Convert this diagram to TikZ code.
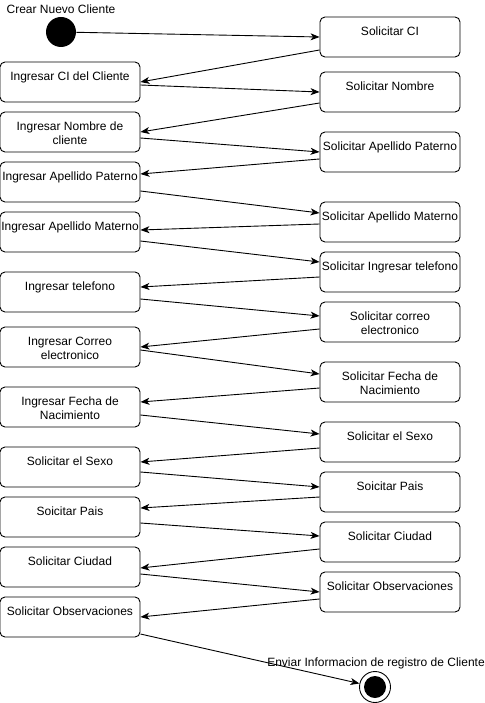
\documentclass[tikz,border=0pt]{standalone}
\usepackage{fontspec}
\setmainfont{Liberation Sans}
\usetikzlibrary{arrows.meta}

\newcommand{\acttext}[1]{\parbox[c][22pt][t]{140pt}{\centering\begin{tabular}[t]{@{}c@{}}#1\end{tabular}}}

\tikzset{
  actbox/.style={draw, rounded corners=5pt, minimum width=140pt, minimum height=40pt,
    inner sep=0pt, font=\fontsize{12}{14}\selectfont},
  flow/.style={-{Stealth[length=9pt,width=7pt,inset=2.5pt]}},
  caption/.style={font=\fontsize{12}{14}\selectfont, inner sep=0pt},
}

\begin{document}
\begin{tikzpicture}[x=1pt,y=-1pt,line width=0.9pt]
\useasboundingbox (0,0) rectangle (484,703);

%% start and end
\node[circle, fill=black, minimum size=30pt, inner sep=0pt] (start) at (61,32) {};
\node[caption] (crear) at (61,9) {Crear Nuevo Cliente};
\node[circle, draw, fill=white, minimum size=31pt, inner sep=0pt,
  path picture={\fill[black] (path picture bounding box.center) circle (11pt);}] (end) at (375,687) {};
\node[caption] (enviar) at (376,663) {Enviar Informacion de registro de Cliente};

%% right column
\node[actbox] (r1) at (390,37)  {\acttext{Solicitar CI}};
\node[actbox] (r2) at (390,92)  {\acttext{Solicitar Nombre}};
\node[actbox] (r3) at (390,152) {\acttext{Solicitar Apellido Paterno}};
\node[actbox] (r4) at (390,222) {\acttext{Solicitar Apellido Materno}};
\node[actbox] (r5) at (390,272) {\acttext{Solicitar Ingresar telefono}};
\node[actbox] (r6) at (390,322) {\acttext{Solicitar correo\\electronico}};
\node[actbox] (r7) at (390,382) {\acttext{Solicitar Fecha de\\Nacimiento}};
\node[actbox] (r8) at (390,442) {\acttext{Solicitar el Sexo}};
\node[actbox] (r9) at (390,492) {\acttext{Soicitar Pais}};
\node[actbox] (r10) at (390,542) {\acttext{Solicitar Ciudad}};
\node[actbox] (r11) at (390,592) {\acttext{Solicitar Observaciones}};

%% left column
\node[actbox] (l1) at (70,82)  {\acttext{Ingresar CI del Cliente}};
\node[actbox] (l2) at (70,132) {\acttext{Ingresar Nombre de\\cliente}};
\node[actbox] (l3) at (70,182) {\acttext{Ingresar Apellido Paterno}};
\node[actbox] (l4) at (70,232) {\acttext{Ingresar Apellido Materno}};
\node[actbox] (l5) at (70,292) {\acttext{Ingresar telefono}};
\node[actbox] (l6) at (70,347) {\acttext{Ingresar Correo\\electronico}};
\node[actbox] (l7) at (70,407) {\acttext{Ingresar Fecha de\\Nacimiento}};
\node[actbox] (l8) at (70,467) {\acttext{Solicitar el Sexo}};
\node[actbox] (l9) at (70,517) {\acttext{Soicitar Pais}};
\node[actbox] (l10) at (70,567) {\acttext{Solicitar Ciudad}};
\node[actbox] (l11) at (70,617) {\acttext{Solicitar Observaciones}};

%% transitions
\draw[flow] (start) -- (r1.west);
\draw[flow] ([yshift=-13pt]r1.west) -- (l1.east);
\draw[flow] ([yshift=-3pt]l1.east) -- (r2.west);
\draw[flow] ([yshift=-11pt]r2.west) -- (l2.east);
\draw[flow] ([yshift=-6pt]l2.east) -- (r3.west);
\draw[flow] ([yshift=-7pt]r3.west) -- ([yshift=8pt]l3.east);
\draw[flow] ([yshift=-9pt]l3.east) -- ([yshift=9pt]r4.west);
\draw[flow] ([yshift=-2pt]r4.west) -- ([yshift=2pt]l4.east);
\draw[flow] ([yshift=-9pt]l4.east) -- ([yshift=10pt]r5.west);
\draw[flow] ([yshift=-5pt]r5.west) -- ([yshift=5pt]l5.east);
\draw[flow] ([yshift=-7pt]l5.east) -- ([yshift=6pt]r6.west);
\draw[flow] ([yshift=-7pt]r6.west) -- (l6.east);
\draw[flow] ([yshift=-3pt]l6.east) -- ([yshift=8pt]r7.west);
\draw[flow] ([yshift=-6pt]r7.west) -- ([yshift=5pt]l7.east);
\draw[flow] ([yshift=-8pt]l7.east) -- ([yshift=8pt]r8.west);
\draw[flow] ([yshift=-6pt]r8.west) -- ([yshift=5pt]l8.east);
\draw[flow] ([yshift=-5pt]l8.east) -- ([yshift=5pt]r9.west);
\draw[flow] ([yshift=-5pt]r9.west) -- ([yshift=9pt]l9.east);
\draw[flow] ([yshift=-6pt]l9.east) -- ([yshift=6pt]r10.west);
\draw[flow] ([yshift=-7pt]r10.west) -- ([yshift=-1pt]l10.east);
\draw[flow] ([yshift=-7pt]l10.east) -- (r11.west);
\draw[flow] ([yshift=-7pt]r11.west) -- (l11.east);
\draw[flow] ([yshift=-17pt]l11.east) -- (end);
\end{tikzpicture}
\end{document}
